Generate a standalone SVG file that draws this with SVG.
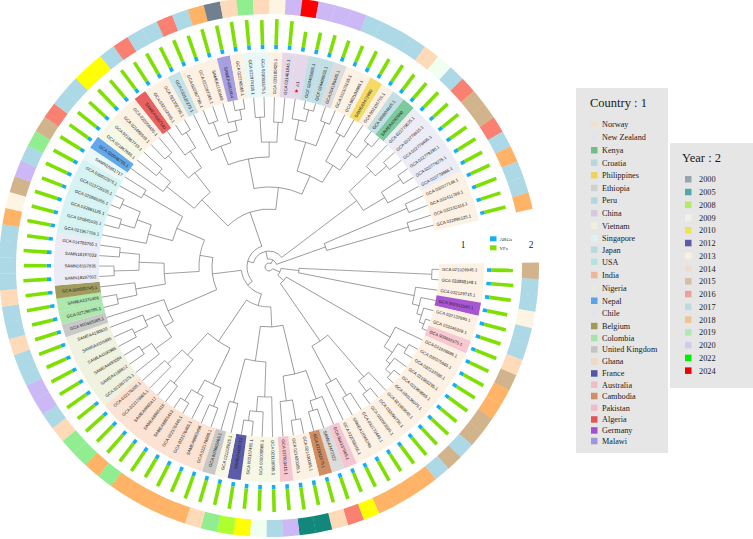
<svg xmlns="http://www.w3.org/2000/svg" xmlns:xlink="http://www.w3.org/1999/xlink" width="753" height="539" viewBox="0 0 753 539">
<style>
.lf text{font-family:"Liberation Sans",Arial,sans-serif;font-size:4.3px;fill:#222222}
.l{text-anchor:end}
.vf{stroke:#7ee000;stroke-width:3.6}
.lg{font-family:"Liberation Serif","Times New Roman",serif;fill:#1a1a1a}
.No{fill:#fdf1e4}.Ge{fill:#a855d4}.Pk{fill:#f8c8d2}.Au{fill:#f6c6d0}.Et{fill:#dcdcdc}.Kh{fill:#d08d62}.Fr{fill:#5b5bab}.Uk{fill:#c8c8c8}.Gh{fill:#fbe2d2}.Ng{fill:#f0f2e0}.Co{fill:#aee8ae}.Be{fill:#a09c5c}.Cl{fill:#ebebf6}.Us{fill:#d6f3f3}.Sg{fill:#e8f8f8}.Np{fill:#62a8ea}.Vn{fill:#f7f7e6}.Dz{fill:#e86060}.Jp{fill:#c4e2e8}.Mw{fill:#a79fe2}.Cn{fill:#e4d8ea}.Hr{fill:#c2dfe6}.Ph{fill:#f6da66}.Ke{fill:#7cc99c}.Nz{fill:#ececf7}
.y00{fill:#708090}.y05{fill:#12877a}.y08{fill:#adff2f}.y09{fill:#f0fff0}.y10{fill:#ffff00}.y13{fill:#fdf5e2}.y14{fill:#ffdab9}.y15{fill:#d2b48c}.y16{fill:#fa8072}.y17{fill:#add8e6}.y18{fill:#ffb366}.y19{fill:#90ee90}.y20{fill:#cbb8f5}.y24{fill:#ff0000}
</style>
<defs>
<path id="bg" d="M169.92,-5.281A170,170 0 0,1 169.92,5.281L214.9,6.678A215,215 0 0,0 214.9,-6.678Z"/>
<path id="yr" d="M252.88,-7.859A253,253 0 0,1 252.88,7.859L269.87,8.387A270,270 0 0,0 269.87,-8.387Z"/>
<line id="arg" x1="218" x2="222.5" stroke="#14aff0" stroke-width="3.6"/>
</defs>
<rect width="753" height="539" fill="#ffffff"/>
<g transform="translate(269 267) rotate(0.8)">
<g id="leaves" class="lf">
<g id="leaf0" transform="rotate(0)"><use href="#bg" class="No"/><text x="173" y="1.5">GCA 021026945.1</text><use href="#arg"/><line class="vf" x1="222.5" x2="244"/><use href="#yr" class="y15"/></g>
<g id="leaf1" transform="rotate(3.52)"><use href="#bg" class="No"/><text x="173" y="1.5">GCA 032868148.1</text><use href="#arg"/><line class="vf" x1="222.5" x2="245"/><use href="#yr" class="y17"/></g>
<g id="leaf2" transform="rotate(7.04)"><use href="#bg" class="No"/><text x="173" y="1.5">GCA 032129715.1</text><use href="#arg"/><line class="vf" x1="222.5" x2="244"/><use href="#yr" class="y17"/></g>
<g id="leaf3" transform="rotate(10.56)"><use href="#bg" class="Ge"/><text x="173" y="1.5">GCA 900912545.1</text><use href="#arg"/><line class="vf" x1="222.5" x2="243"/><use href="#yr" class="y13"/></g>
<g id="leaf4" transform="rotate(14.08)"><use href="#bg" class="No"/><text x="173" y="1.5">GCA 032132990.1</text><use href="#arg"/><line class="vf" x1="222.5" x2="245"/><use href="#yr" class="y17"/></g>
<g id="leaf5" transform="rotate(17.6)"><use href="#bg" class="No"/><text x="173" y="1.5">GCA 032046209.1</text><use href="#arg"/><line class="vf" x1="222.5" x2="244"/><use href="#yr" class="y17"/></g>
<g id="leaf6" transform="rotate(21.12)"><use href="#bg" class="Pk"/><text x="173" y="1.5">GCA 900932575.1</text><use href="#arg"/><line class="vf" x1="222.5" x2="245"/><use href="#yr" class="y14"/></g>
<g id="leaf7" transform="rotate(24.64)"><use href="#bg" class="No"/><text x="173" y="1.5">GCA 021926685.1</text><use href="#arg"/><line class="vf" x1="222.5" x2="243"/><use href="#yr" class="y15"/></g>
<g id="leaf8" transform="rotate(28.16)"><use href="#bg" class="No"/><text x="173" y="1.5">GCA 032075665.1</text><use href="#arg"/><line class="vf" x1="222.5" x2="245"/><use href="#yr" class="y18"/></g>
<g id="leaf9" transform="rotate(31.68)"><use href="#bg" class="No"/><text x="173" y="1.5">GCA 032132085.1</text><use href="#arg"/><line class="vf" x1="222.5" x2="244"/><use href="#yr" class="y18"/></g>
<g id="leaf10" transform="rotate(35.2)"><use href="#bg" class="No"/><text x="173" y="1.5">GCA 021965295.1</text><use href="#arg"/><line class="vf" x1="222.5" x2="245"/><use href="#yr" class="y15"/></g>
<g id="leaf11" transform="rotate(38.72)"><use href="#bg" class="No"/><text x="173" y="1.5">GCA 021969565.1</text><use href="#arg"/><line class="vf" x1="222.5" x2="243"/><use href="#yr" class="y15"/></g>
<g id="leaf12" transform="rotate(42.24)"><use href="#bg" class="No"/><text x="173" y="1.5">GCA 030136075.1</text><use href="#arg"/><line class="vf" x1="222.5" x2="245"/><use href="#yr" class="y17"/></g>
<g id="leaf13" transform="rotate(45.76)"><use href="#bg" class="No"/><text x="173" y="1.5">GCA 021969545.1</text><use href="#arg"/><line class="vf" x1="222.5" x2="244"/><use href="#yr" class="y15"/></g>
<g id="leaf14" transform="rotate(49.28)"><use href="#bg" class="No"/><text x="173" y="1.5">GCA 032096735.1</text><use href="#arg"/><line class="vf" x1="222.5" x2="245"/><use href="#yr" class="y17"/></g>
<g id="leaf15" transform="rotate(52.8)"><use href="#bg" class="No"/><text x="173" y="1.5">GCA 032093595.1</text><use href="#arg"/><line class="vf" x1="222.5" x2="244"/><use href="#yr" class="y18"/></g>
<g id="leaf16" transform="rotate(56.32)"><use href="#bg" class="No"/><text x="173" y="1.5">GCA 032172445.1</text><use href="#arg"/><line class="vf" x1="222.5" x2="243"/><use href="#yr" class="y18"/></g>
<g id="leaf17" transform="rotate(59.84)"><use href="#bg" class="No"/><text x="173" y="1.5">SAMEA10365746</text><use href="#arg"/><line class="vf" x1="222.5" x2="245"/><use href="#yr" class="y18"/></g>
<g id="leaf18" transform="rotate(63.36)"><use href="#bg" class="No"/><text x="173" y="1.5">GCA 022058055.1</text><use href="#arg"/><line class="vf" x1="222.5" x2="244"/><use href="#yr" class="y18"/></g>
<g id="leaf19" transform="rotate(66.88)"><use href="#bg" class="Au"/><text x="173" y="1.5">GCA 900137065.1</text><use href="#arg"/><line class="vf" x1="222.5" x2="243"/><use href="#yr" class="y10"/></g>
<g id="leaf20" transform="rotate(70.4)"><use href="#bg" class="Et"/><text x="173" y="1.5">SAMEA7472322</text><use href="#arg"/><line class="vf" x1="222.5" x2="245"/><use href="#yr" class="y16"/></g>
<g id="leaf21" transform="rotate(73.92)"><use href="#bg" class="Kh"/><text x="173" y="1.5">GCA 022832075.1</text><use href="#arg"/><line class="vf" x1="222.5" x2="244"/><use href="#yr" class="y14"/></g>
<g id="leaf22" transform="rotate(77.44)"><use href="#bg" class="No"/><text x="173" y="1.5">GCA 021430065.1</text><use href="#arg"/><line class="vf" x1="222.5" x2="243"/><use href="#yr" class="y05"/></g>
<g id="leaf23" transform="rotate(80.96)"><use href="#bg" class="No"/><text x="173" y="1.5">GCA 021430085.1</text><use href="#arg"/><line class="vf" x1="222.5" x2="245"/><use href="#yr" class="y05"/></g>
<g id="leaf24" transform="rotate(84.48)"><use href="#bg" class="Au"/><text x="173" y="1.5">GCA 027003415.1</text><use href="#arg"/><line class="vf" x1="222.5" x2="244"/><use href="#yr" class="y20"/></g>
<g id="leaf25" transform="rotate(88)"><use href="#bg" class="Vn"/><text x="173" y="1.5">GCA 021128035.1</text><use href="#arg"/><line class="vf" x1="222.5" x2="245"/><use href="#yr" class="y17"/></g>
<g id="leaf26" transform="rotate(91.52)"><use href="#bg" class="Vn"/><text class="l" x="173" y="1.5" transform="rotate(180 173 0)">GCA 000008865.1</text><use href="#arg"/><line class="vf" x1="222.5" x2="244"/><use href="#yr" class="y09"/></g>
<g id="leaf27" transform="rotate(95.04)"><use href="#bg" class="Vn"/><text class="l" x="173" y="1.5" transform="rotate(180 173 0)">GCA 003157405.1</text><use href="#arg"/><line class="vf" x1="222.5" x2="243"/><use href="#yr" class="y10"/></g>
<g id="leaf28" transform="rotate(98.56)"><use href="#bg" class="Fr"/><text class="l" x="173" y="1.5" transform="rotate(180 173 0)">SAMEA4433712</text><use href="#arg"/><line class="vf" x1="222.5" x2="245"/><use href="#yr" class="y08"/></g>
<g id="leaf29" transform="rotate(102.08)"><use href="#bg" class="Vn"/><text class="l" x="173" y="1.5" transform="rotate(180 173 0)">GCA 021108625.1</text><use href="#arg"/><line class="vf" x1="222.5" x2="244"/><use href="#yr" class="y19"/></g>
<g id="leaf30" transform="rotate(105.6)"><use href="#bg" class="Uk"/><text class="l" x="173" y="1.5" transform="rotate(180 173 0)">GCA 900665465.1</text><use href="#arg"/><line class="vf" x1="222.5" x2="245"/><use href="#yr" class="y14"/></g>
<g id="leaf31" transform="rotate(109.12)"><use href="#bg" class="Gh"/><text class="l" x="173" y="1.5" transform="rotate(180 173 0)">GCA 022176565.1</text><use href="#arg"/><line class="vf" x1="222.5" x2="246"/><use href="#yr" class="y18"/></g>
<g id="leaf32" transform="rotate(112.64)"><use href="#bg" class="Gh"/><text class="l" x="173" y="1.5" transform="rotate(180 173 0)">SAMEA8863456</text><use href="#arg"/><line class="vf" x1="222.5" x2="245"/><use href="#yr" class="y18"/></g>
<g id="leaf33" transform="rotate(116.16)"><use href="#bg" class="Gh"/><text class="l" x="173" y="1.5" transform="rotate(180 173 0)">GCA 022176465.1</text><use href="#arg"/><line class="vf" x1="222.5" x2="246"/><use href="#yr" class="y18"/></g>
<g id="leaf34" transform="rotate(119.68)"><use href="#bg" class="Gh"/><text class="l" x="173" y="1.5" transform="rotate(180 173 0)">GCA 022176445.1</text><use href="#arg"/><line class="vf" x1="222.5" x2="244"/><use href="#yr" class="y18"/></g>
<g id="leaf35" transform="rotate(123.2)"><use href="#bg" class="Gh"/><text class="l" x="173" y="1.5" transform="rotate(180 173 0)">SAMEA8865413</text><use href="#arg"/><line class="vf" x1="222.5" x2="246"/><use href="#yr" class="y18"/></g>
<g id="leaf36" transform="rotate(126.72)"><use href="#bg" class="Gh"/><text class="l" x="173" y="1.5" transform="rotate(180 173 0)">SAMEA8865416</text><use href="#arg"/><line class="vf" x1="222.5" x2="245"/><use href="#yr" class="y19"/></g>
<g id="leaf37" transform="rotate(130.24)"><use href="#bg" class="Gh"/><text class="l" x="173" y="1.5" transform="rotate(180 173 0)">SAMEA8865417</text><use href="#arg"/><line class="vf" x1="222.5" x2="246"/><use href="#yr" class="y18"/></g>
<g id="leaf38" transform="rotate(133.76)"><use href="#bg" class="Gh"/><text class="l" x="173" y="1.5" transform="rotate(180 173 0)">GCA 022179965.1</text><use href="#arg"/><line class="vf" x1="222.5" x2="245"/><use href="#yr" class="y19"/></g>
<g id="leaf39" transform="rotate(137.28)"><use href="#bg" class="Gh"/><text class="l" x="173" y="1.5" transform="rotate(180 173 0)">GCA 022176205.1</text><use href="#arg"/><line class="vf" x1="222.5" x2="246"/><use href="#yr" class="y19"/></g>
<g id="leaf40" transform="rotate(140.8)"><use href="#bg" class="Ng"/><text class="l" x="173" y="1.5" transform="rotate(180 173 0)">GCA 021967375.1</text><use href="#arg"/><line class="vf" x1="222.5" x2="244"/><use href="#yr" class="y14"/></g>
<g id="leaf41" transform="rotate(144.32)"><use href="#bg" class="Ng"/><text class="l" x="173" y="1.5" transform="rotate(180 173 0)">SAMEA4189812</text><use href="#arg"/><line class="vf" x1="222.5" x2="246"/><use href="#yr" class="y17"/></g>
<g id="leaf42" transform="rotate(147.84)"><use href="#bg" class="Ng"/><text class="l" x="173" y="1.5" transform="rotate(180 173 0)">SAMEA4493584</text><use href="#arg"/><line class="vf" x1="222.5" x2="245"/><use href="#yr" class="y20"/></g>
<g id="leaf43" transform="rotate(151.36)"><use href="#bg" class="Ng"/><text class="l" x="173" y="1.5" transform="rotate(180 173 0)">SAMEA4190985</text><use href="#arg"/><line class="vf" x1="222.5" x2="246"/><use href="#yr" class="y20"/></g>
<g id="leaf44" transform="rotate(154.88)"><use href="#bg" class="Ng"/><text class="l" x="173" y="1.5" transform="rotate(180 173 0)">SAMEA4155895</text><use href="#arg"/><line class="vf" x1="222.5" x2="244"/><use href="#yr" class="y17"/></g>
<g id="leaf45" transform="rotate(158.4)"><use href="#bg" class="Ng"/><text class="l" x="173" y="1.5" transform="rotate(180 173 0)">SAMEA4190820</text><use href="#arg"/><line class="vf" x1="222.5" x2="246"/><use href="#yr" class="y17"/></g>
<g id="leaf46" transform="rotate(161.92)"><use href="#bg" class="Uk"/><text class="l" x="173" y="1.5" transform="rotate(180 173 0)">GCA 900665385.1</text><use href="#arg"/><line class="vf" x1="222.5" x2="245"/><use href="#yr" class="y14"/></g>
<g id="leaf47" transform="rotate(165.44)"><use href="#bg" class="Co"/><text class="l" x="173" y="1.5" transform="rotate(180 173 0)">GCA 027296785.1</text><use href="#arg"/><line class="vf" x1="222.5" x2="244"/><use href="#yr" class="y17"/></g>
<g id="leaf48" transform="rotate(168.96)"><use href="#bg" class="Co"/><text class="l" x="173" y="1.5" transform="rotate(180 173 0)">SAMEA3375406</text><use href="#arg"/><line class="vf" x1="222.5" x2="246"/><use href="#yr" class="y17"/></g>
<g id="leaf49" transform="rotate(172.48)"><use href="#bg" class="Be"/><text class="l" x="173" y="1.5" transform="rotate(180 173 0)">GCA 900665745.1</text><use href="#arg"/><line class="vf" x1="222.5" x2="245"/><use href="#yr" class="y14"/></g>
<g id="leaf50" transform="rotate(176)"><use href="#bg" class="Cl"/><text class="l" x="173" y="1.5" transform="rotate(180 173 0)">SAMN18197502</text><use href="#arg"/><line class="vf" x1="222.5" x2="246"/><use href="#yr" class="y17"/></g>
<g id="leaf51" transform="rotate(179.52)"><use href="#bg" class="Cl"/><text class="l" x="173" y="1.5" transform="rotate(180 173 0)">SAMN18197835</text><use href="#arg"/><line class="vf" x1="222.5" x2="245"/><use href="#yr" class="y17"/></g>
<g id="leaf52" transform="rotate(183.04)"><use href="#bg" class="Cl"/><text class="l" x="173" y="1.5" transform="rotate(180 173 0)">SAMN18197033</text><use href="#arg"/><line class="vf" x1="222.5" x2="246"/><use href="#yr" class="y17"/></g>
<g id="leaf53" transform="rotate(186.56)"><use href="#bg" class="Cl"/><text class="l" x="173" y="1.5" transform="rotate(180 173 0)">GCA 014785765.1</text><use href="#arg"/><line class="vf" x1="222.5" x2="244"/><use href="#yr" class="y17"/></g>
<g id="leaf54" transform="rotate(190.08)"><use href="#bg" class="Us"/><text class="l" x="173" y="1.5" transform="rotate(180 173 0)">GCA 021957705.1</text><use href="#arg"/><line class="vf" x1="222.5" x2="246"/><use href="#yr" class="y18"/></g>
<g id="leaf55" transform="rotate(193.6)"><use href="#bg" class="Us"/><text class="l" x="173" y="1.5" transform="rotate(180 173 0)">GCA 020845535.1</text><use href="#arg"/><line class="vf" x1="222.5" x2="245"/><use href="#yr" class="y13"/></g>
<g id="leaf56" transform="rotate(197.12)"><use href="#bg" class="Us"/><text class="l" x="173" y="1.5" transform="rotate(180 173 0)">GCA 022981125.1</text><use href="#arg"/><line class="vf" x1="222.5" x2="246"/><use href="#yr" class="y15"/></g>
<g id="leaf57" transform="rotate(200.64)"><use href="#bg" class="Us"/><text class="l" x="173" y="1.5" transform="rotate(180 173 0)">GCA 020965255.1</text><use href="#arg"/><line class="vf" x1="222.5" x2="244"/><use href="#yr" class="y20"/></g>
<g id="leaf58" transform="rotate(204.16)"><use href="#bg" class="Us"/><text class="l" x="173" y="1.5" transform="rotate(180 173 0)">GCA 013729105.1</text><use href="#arg"/><line class="vf" x1="222.5" x2="246"/><use href="#yr" class="y17"/></g>
<g id="leaf59" transform="rotate(207.68)"><use href="#bg" class="Us"/><text class="l" x="173" y="1.5" transform="rotate(180 173 0)">GCA 030932975.1</text><use href="#arg"/><line class="vf" x1="222.5" x2="245"/><use href="#yr" class="y19"/></g>
<g id="leaf60" transform="rotate(211.2)"><use href="#bg" class="Sg"/><text class="l" x="173" y="1.5" transform="rotate(180 173 0)">SAMN15951717</text><use href="#arg"/><line class="vf" x1="222.5" x2="246"/><use href="#yr" class="y15"/></g>
<g id="leaf61" transform="rotate(214.72)"><use href="#bg" class="Np"/><text class="l" x="173" y="1.5" transform="rotate(180 173 0)">GCA 020046705.1</text><use href="#arg"/><line class="vf" x1="222.5" x2="245"/><use href="#yr" class="y16"/></g>
<g id="leaf62" transform="rotate(218.24)"><use href="#bg" class="Vn"/><text class="l" x="173" y="1.5" transform="rotate(180 173 0)">GCA 021867665.1</text><use href="#arg"/><line class="vf" x1="222.5" x2="246"/><use href="#yr" class="y17"/></g>
<g id="leaf63" transform="rotate(221.76)"><use href="#bg" class="Vn"/><text class="l" x="173" y="1.5" transform="rotate(180 173 0)">GCA 021867715.1</text><use href="#arg"/><line class="vf" x1="222.5" x2="244"/><use href="#yr" class="y17"/></g>
<g id="leaf64" transform="rotate(225.28)"><use href="#bg" class="No"/><text class="l" x="173" y="1.5" transform="rotate(180 173 0)">GCA 021868545.1</text><use href="#arg"/><line class="vf" x1="222.5" x2="246"/><use href="#yr" class="y10"/></g>
<g id="leaf65" transform="rotate(228.8)"><use href="#bg" class="No"/><text class="l" x="173" y="1.5" transform="rotate(180 173 0)">GCA 022058435.1</text><use href="#arg"/><line class="vf" x1="222.5" x2="245"/><use href="#yr" class="y10"/></g>
<g id="leaf66" transform="rotate(232.32)"><use href="#bg" class="Dz"/><text class="l" x="173" y="1.5" transform="rotate(180 173 0)">SAMEA4387140</text><use href="#arg"/><line class="vf" x1="222.5" x2="246"/><use href="#yr" class="y17"/></g>
<g id="leaf67" transform="rotate(235.84)"><use href="#bg" class="No"/><text class="l" x="173" y="1.5" transform="rotate(180 173 0)">GCA 032162445.1</text><use href="#arg"/><line class="vf" x1="222.5" x2="245"/><use href="#yr" class="y16"/></g>
<g id="leaf68" transform="rotate(239.36)"><use href="#bg" class="No"/><text class="l" x="173" y="1.5" transform="rotate(180 173 0)">GCA 022302785.1</text><use href="#arg"/><line class="vf" x1="222.5" x2="246"/><use href="#yr" class="y17"/></g>
<g id="leaf69" transform="rotate(242.88)"><use href="#bg" class="Jp"/><text class="l" x="173" y="1.5" transform="rotate(180 173 0)">GCA 032120275.1</text><use href="#arg"/><line class="vf" x1="222.5" x2="245"/><use href="#yr" class="y17"/></g>
<g id="leaf70" transform="rotate(246.4)"><use href="#bg" class="No"/><text class="l" x="173" y="1.5" transform="rotate(180 173 0)">GCA 022307785.1</text><use href="#arg"/><line class="vf" x1="222.5" x2="246"/><use href="#yr" class="y16"/></g>
<g id="leaf71" transform="rotate(249.92)"><use href="#bg" class="No"/><text class="l" x="173" y="1.5" transform="rotate(180 173 0)">GCA 022297365.1</text><use href="#arg"/><line class="vf" x1="222.5" x2="245"/><use href="#yr" class="y17"/></g>
<g id="leaf72" transform="rotate(253.44)"><use href="#bg" class="No"/><text class="l" x="173" y="1.5" transform="rotate(180 173 0)">SAMEA1190469</text><use href="#arg"/><line class="vf" x1="222.5" x2="247"/><use href="#yr" class="y18"/></g>
<g id="leaf73" transform="rotate(256.96)"><use href="#bg" class="Mw"/><text class="l" x="173" y="1.5" transform="rotate(180 173 0)">SAMEA4281604</text><use href="#arg"/><line class="vf" x1="222.5" x2="247"/><use href="#yr" class="y00"/></g>
<g id="leaf74" transform="rotate(260.48)"><use href="#bg" class="No"/><text class="l" x="173" y="1.5" transform="rotate(180 173 0)">GCA 022748065.1</text><use href="#arg"/><line class="vf" x1="222.5" x2="248"/><use href="#yr" class="y14"/></g>
<g id="leaf75" transform="rotate(264)"><use href="#bg" class="Sg"/><text class="l" x="173" y="1.5" transform="rotate(180 173 0)">GCA 022974135.1</text><use href="#arg"/><line class="vf" x1="222.5" x2="248"/><use href="#yr" class="y19"/></g>
<g id="leaf76" transform="rotate(267.52)"><use href="#bg" class="Sg"/><text class="l" x="173" y="1.5" transform="rotate(180 173 0)">GCA 023033375.1</text><use href="#arg"/><line class="vf" x1="222.5" x2="247"/><use href="#yr" class="y14"/></g>
<g id="leaf77" transform="rotate(271.04)"><use href="#bg" class="No"/><text x="173" y="1.5">GCA 033180425.1</text><use href="#arg"/><line class="vf" x1="222.5" x2="248"/><use href="#yr" class="y13"/></g>
<g id="leaf78" transform="rotate(274.56)"><use href="#bg" class="Cn"/><text x="173" y="1.5">GCA 021461845.1</text><use href="#arg"/><line class="vf" x1="222.5" x2="247"/><use href="#yr" class="y20"/></g>
<g id="leaf79" transform="rotate(278.08)"><use href="#bg" class="Cn"/><polygon fill="#ee1111" transform="translate(178 0)" points="0,-2.2 0.529,-0.728 2.092,-0.68 0.856,0.278 1.293,1.78 0,0.9 -1.293,1.78 -0.856,0.278 -2.092,-0.68 -0.529,-0.728"/><text x="182.5" y="1.5">A1</text><use href="#arg"/><line class="vf" x1="222.5" x2="238"/><use href="#yr" class="y24"/></g>
<g id="leaf80" transform="rotate(281.6)"><use href="#bg" class="Hr"/><text x="173" y="1.5">GCF 024465885.1</text><use href="#arg"/><line class="vf" x1="222.5" x2="240"/><use href="#yr" class="y20"/></g>
<g id="leaf81" transform="rotate(285.12)"><use href="#bg" class="Hr"/><text x="173" y="1.5">GCF 024466055.1</text><use href="#arg"/><line class="vf" x1="222.5" x2="241"/><use href="#yr" class="y20"/></g>
<g id="leaf82" transform="rotate(288.64)"><use href="#bg" class="Et"/><text x="173" y="1.5">GCA 004196445.1</text><use href="#arg"/><line class="vf" x1="222.5" x2="240"/><use href="#yr" class="y20"/></g>
<g id="leaf83" transform="rotate(292.16)"><use href="#bg" class="No"/><text x="173" y="1.5">GCA 002103135.1</text><use href="#arg"/><line class="vf" x1="222.5" x2="240"/><use href="#yr" class="y17"/></g>
<g id="leaf84" transform="rotate(295.68)"><use href="#bg" class="No"/><text x="173" y="1.5">GCA 002104005.1</text><use href="#arg"/><line class="vf" x1="222.5" x2="241"/><use href="#yr" class="y17"/></g>
<g id="leaf85" transform="rotate(299.2)"><use href="#bg" class="Ph"/><text x="173" y="1.5">SAMEA3472880</text><use href="#arg"/><line class="vf" x1="222.5" x2="240"/><use href="#yr" class="y17"/></g>
<g id="leaf86" transform="rotate(302.72)"><use href="#bg" class="No"/><text x="173" y="1.5">GCA 002105755.1</text><use href="#arg"/><line class="vf" x1="222.5" x2="242"/><use href="#yr" class="y17"/></g>
<g id="leaf87" transform="rotate(306.24)"><use href="#bg" class="Hr"/><text x="173" y="1.5">GCA 900804665.1</text><use href="#arg"/><line class="vf" x1="222.5" x2="241"/><use href="#yr" class="y14"/></g>
<g id="leaf88" transform="rotate(309.76)"><use href="#bg" class="Ke"/><text x="173" y="1.5">SAMEA4282680</text><use href="#arg"/><line class="vf" x1="222.5" x2="242"/><use href="#yr" class="y09"/></g>
<g id="leaf89" transform="rotate(313.28)"><use href="#bg" class="Nz"/><text x="173" y="1.5">GCA 022779675.1</text><use href="#arg"/><line class="vf" x1="222.5" x2="243"/><use href="#yr" class="y17"/></g>
<g id="leaf90" transform="rotate(316.8)"><use href="#bg" class="Nz"/><text x="173" y="1.5">GCA 022779615.1</text><use href="#arg"/><line class="vf" x1="222.5" x2="242"/><use href="#yr" class="y16"/></g>
<g id="leaf91" transform="rotate(320.32)"><use href="#bg" class="Nz"/><text x="173" y="1.5">GCA 022779495.1</text><use href="#arg"/><line class="vf" x1="222.5" x2="243"/><use href="#yr" class="y15"/></g>
<g id="leaf92" transform="rotate(323.84)"><use href="#bg" class="Nz"/><text x="173" y="1.5">GCA 022779295.1</text><use href="#arg"/><line class="vf" x1="222.5" x2="242"/><use href="#yr" class="y15"/></g>
<g id="leaf93" transform="rotate(327.36)"><use href="#bg" class="Nz"/><text x="173" y="1.5">GCA 022779275.1</text><use href="#arg"/><line class="vf" x1="222.5" x2="243"/><use href="#yr" class="y16"/></g>
<g id="leaf94" transform="rotate(330.88)"><use href="#bg" class="Nz"/><text x="173" y="1.5">GCA 022779865.1</text><use href="#arg"/><line class="vf" x1="222.5" x2="242"/><use href="#yr" class="y17"/></g>
<g id="leaf95" transform="rotate(334.4)"><use href="#bg" class="No"/><text x="173" y="1.5">GCA 032077146.1</text><use href="#arg"/><line class="vf" x1="222.5" x2="243"/><use href="#yr" class="y18"/></g>
<g id="leaf96" transform="rotate(337.92)"><use href="#bg" class="No"/><text x="173" y="1.5">GCA 032411789.1</text><use href="#arg"/><line class="vf" x1="222.5" x2="244"/><use href="#yr" class="y17"/></g>
<g id="leaf97" transform="rotate(341.44)"><use href="#bg" class="No"/><text x="173" y="1.5">GCA 032132316.1</text><use href="#arg"/><line class="vf" x1="222.5" x2="243"/><use href="#yr" class="y17"/></g>
<g id="leaf98" transform="rotate(344.96)"><use href="#bg" class="No"/><text x="173" y="1.5">GCA 032896125.1</text><use href="#arg"/><line class="vf" x1="222.5" x2="244"/><use href="#yr" class="y18"/></g>
</g>
<g id="connectors" fill="none" stroke="#666666" stroke-width="0.6">
<circle r="165" stroke-dasharray="10.14 2000" transform="rotate(17.6)"/><line x1="165" x2="170" transform="rotate(17.6)"/><line x1="165" x2="170" transform="rotate(21.12)"/>
<circle r="160" stroke-dasharray="14.74 2000" transform="rotate(14.08)"/><line x1="160" x2="170" transform="rotate(14.08)"/><line x1="160" x2="165" transform="rotate(19.36)"/>
<circle r="155" stroke-dasharray="16.67 2000" transform="rotate(10.56)"/><line x1="155" x2="170" transform="rotate(10.56)"/><line x1="155" x2="160" transform="rotate(16.72)"/>
<circle r="148" stroke-dasharray="17.05 2000" transform="rotate(7.04)"/><line x1="148" x2="170" transform="rotate(7.04)"/><line x1="148" x2="155" transform="rotate(13.64)"/>
<circle r="163" stroke-dasharray="10.01 2000" transform="rotate(0)"/><line x1="163" x2="170" transform="rotate(0)"/><line x1="163" x2="170" transform="rotate(3.52)"/>
<circle r="30" stroke-dasharray="4.49 2000" transform="rotate(1.76)"/><line x1="30" x2="163" transform="rotate(1.76)"/><line x1="30" x2="148" transform="rotate(10.34)"/>
<circle r="162" stroke-dasharray="9.95 2000" transform="rotate(38.72)"/><line x1="162" x2="170" transform="rotate(38.72)"/><line x1="162" x2="170" transform="rotate(42.24)"/>
<circle r="155" stroke-dasharray="14.28 2000" transform="rotate(35.2)"/><line x1="155" x2="170" transform="rotate(35.2)"/><line x1="155" x2="162" transform="rotate(40.48)"/>
<circle r="160" stroke-dasharray="9.83 2000" transform="rotate(28.16)"/><line x1="160" x2="170" transform="rotate(28.16)"/><line x1="160" x2="170" transform="rotate(31.68)"/>
<circle r="150" stroke-dasharray="20.73 2000" transform="rotate(29.92)"/><line x1="150" x2="160" transform="rotate(29.92)"/><line x1="150" x2="155" transform="rotate(37.84)"/>
<circle r="140" stroke-dasharray="22.58 2000" transform="rotate(24.64)"/><line x1="140" x2="170" transform="rotate(24.64)"/><line x1="140" x2="150" transform="rotate(33.88)"/>
<circle r="158" stroke-dasharray="9.71 2000" transform="rotate(49.28)"/><line x1="158" x2="170" transform="rotate(49.28)"/><line x1="158" x2="170" transform="rotate(52.8)"/>
<circle r="145" stroke-dasharray="13.36 2000" transform="rotate(45.76)"/><line x1="145" x2="170" transform="rotate(45.76)"/><line x1="145" x2="158" transform="rotate(51.04)"/>
<circle r="150" stroke-dasharray="9.22 2000" transform="rotate(56.32)"/><line x1="150" x2="170" transform="rotate(56.32)"/><line x1="150" x2="170" transform="rotate(59.84)"/>
<circle r="130" stroke-dasharray="11.98 2000" transform="rotate(58.08)"/><line x1="130" x2="150" transform="rotate(58.08)"/><line x1="130" x2="170" transform="rotate(63.36)"/>
<circle r="90" stroke-dasharray="19.35 2000" transform="rotate(48.4)"/><line x1="90" x2="145" transform="rotate(48.4)"/><line x1="90" x2="130" transform="rotate(60.72)"/>
<circle r="20" stroke-dasharray="8.83 2000" transform="rotate(29.26)"/><line x1="20" x2="140" transform="rotate(29.26)"/><line x1="20" x2="90" transform="rotate(54.56)"/>
<circle r="12" stroke-dasharray="7.51 2000" transform="rotate(6.05)"/><line x1="12" x2="30" transform="rotate(6.05)"/><line x1="12" x2="20" transform="rotate(41.91)"/>
<circle r="150" stroke-dasharray="9.22 2000" transform="rotate(334.4)"/><line x1="150" x2="170" transform="rotate(334.4)"/><line x1="150" x2="170" transform="rotate(337.92)"/>
<circle r="145" stroke-dasharray="8.91 2000" transform="rotate(341.44)"/><line x1="145" x2="170" transform="rotate(341.44)"/><line x1="145" x2="170" transform="rotate(344.96)"/>
<circle r="60" stroke-dasharray="7.37 2000" transform="rotate(336.16)"/><line x1="60" x2="150" transform="rotate(336.16)"/><line x1="60" x2="145" transform="rotate(343.2)"/>
<circle r="155" stroke-dasharray="9.52 2000" transform="rotate(316.8)"/><line x1="155" x2="170" transform="rotate(316.8)"/><line x1="155" x2="170" transform="rotate(320.32)"/>
<circle r="140" stroke-dasharray="12.9 2000" transform="rotate(313.28)"/><line x1="140" x2="170" transform="rotate(313.28)"/><line x1="140" x2="155" transform="rotate(318.56)"/>
<circle r="158" stroke-dasharray="9.71 2000" transform="rotate(323.84)"/><line x1="158" x2="170" transform="rotate(323.84)"/><line x1="158" x2="170" transform="rotate(327.36)"/>
<circle r="135" stroke-dasharray="12.44 2000" transform="rotate(325.6)"/><line x1="135" x2="158" transform="rotate(325.6)"/><line x1="135" x2="170" transform="rotate(330.88)"/>
<circle r="110" stroke-dasharray="23.65 2000" transform="rotate(315.92)"/><line x1="110" x2="140" transform="rotate(315.92)"/><line x1="110" x2="135" transform="rotate(328.24)"/>
<circle r="162" stroke-dasharray="9.95 2000" transform="rotate(281.6)"/><line x1="162" x2="170" transform="rotate(281.6)"/><line x1="162" x2="170" transform="rotate(285.12)"/>
<circle r="150" stroke-dasharray="13.82 2000" transform="rotate(278.08)"/><line x1="150" x2="170" transform="rotate(278.08)"/><line x1="150" x2="162" transform="rotate(283.36)"/>
<circle r="155" stroke-dasharray="9.52 2000" transform="rotate(288.64)"/><line x1="155" x2="170" transform="rotate(288.64)"/><line x1="155" x2="170" transform="rotate(292.16)"/>
<circle r="130" stroke-dasharray="21.96 2000" transform="rotate(280.72)"/><line x1="130" x2="150" transform="rotate(280.72)"/><line x1="130" x2="155" transform="rotate(290.4)"/>
<circle r="150" stroke-dasharray="9.22 2000" transform="rotate(295.68)"/><line x1="150" x2="170" transform="rotate(295.68)"/><line x1="150" x2="170" transform="rotate(299.2)"/>
<circle r="158" stroke-dasharray="9.71 2000" transform="rotate(306.24)"/><line x1="158" x2="170" transform="rotate(306.24)"/><line x1="158" x2="170" transform="rotate(309.76)"/>
<circle r="140" stroke-dasharray="12.9 2000" transform="rotate(302.72)"/><line x1="140" x2="170" transform="rotate(302.72)"/><line x1="140" x2="158" transform="rotate(308)"/>
<circle r="120" stroke-dasharray="16.59 2000" transform="rotate(297.44)"/><line x1="120" x2="150" transform="rotate(297.44)"/><line x1="120" x2="140" transform="rotate(305.36)"/>
<circle r="100" stroke-dasharray="27.65 2000" transform="rotate(285.56)"/><line x1="100" x2="130" transform="rotate(285.56)"/><line x1="100" x2="120" transform="rotate(301.4)"/>
<circle r="155" stroke-dasharray="9.52 2000" transform="rotate(246.4)"/><line x1="155" x2="170" transform="rotate(246.4)"/><line x1="155" x2="170" transform="rotate(249.92)"/>
<circle r="160" stroke-dasharray="9.83 2000" transform="rotate(256.96)"/><line x1="160" x2="170" transform="rotate(256.96)"/><line x1="160" x2="170" transform="rotate(260.48)"/>
<circle r="150" stroke-dasharray="13.82 2000" transform="rotate(253.44)"/><line x1="150" x2="170" transform="rotate(253.44)"/><line x1="150" x2="160" transform="rotate(258.72)"/>
<circle r="140" stroke-dasharray="19.35 2000" transform="rotate(248.16)"/><line x1="140" x2="155" transform="rotate(248.16)"/><line x1="140" x2="150" transform="rotate(256.08)"/>
<circle r="130" stroke-dasharray="20.97 2000" transform="rotate(242.88)"/><line x1="130" x2="170" transform="rotate(242.88)"/><line x1="130" x2="140" transform="rotate(252.12)"/>
<circle r="150" stroke-dasharray="9.22 2000" transform="rotate(264)"/><line x1="150" x2="170" transform="rotate(264)"/><line x1="150" x2="170" transform="rotate(267.52)"/>
<circle r="145" stroke-dasharray="8.91 2000" transform="rotate(271.04)"/><line x1="145" x2="170" transform="rotate(271.04)"/><line x1="145" x2="170" transform="rotate(274.56)"/>
<circle r="125" stroke-dasharray="15.36 2000" transform="rotate(265.76)"/><line x1="125" x2="150" transform="rotate(265.76)"/><line x1="125" x2="145" transform="rotate(272.8)"/>
<circle r="110" stroke-dasharray="41.82 2000" transform="rotate(247.5)"/><line x1="110" x2="130" transform="rotate(247.5)"/><line x1="110" x2="125" transform="rotate(269.28)"/>
<circle r="80" stroke-dasharray="49 2000" transform="rotate(258.39)"/><line x1="80" x2="110" transform="rotate(258.39)"/><line x1="80" x2="100" transform="rotate(293.48)"/>
<circle r="145" stroke-dasharray="8.91 2000" transform="rotate(218.24)"/><line x1="145" x2="170" transform="rotate(218.24)"/><line x1="145" x2="170" transform="rotate(221.76)"/>
<circle r="130" stroke-dasharray="11.98 2000" transform="rotate(214.72)"/><line x1="130" x2="170" transform="rotate(214.72)"/><line x1="130" x2="145" transform="rotate(220)"/>
<circle r="150" stroke-dasharray="9.22 2000" transform="rotate(225.28)"/><line x1="150" x2="170" transform="rotate(225.28)"/><line x1="150" x2="170" transform="rotate(228.8)"/>
<circle r="158" stroke-dasharray="9.71 2000" transform="rotate(235.84)"/><line x1="158" x2="170" transform="rotate(235.84)"/><line x1="158" x2="170" transform="rotate(239.36)"/>
<circle r="140" stroke-dasharray="12.9 2000" transform="rotate(232.32)"/><line x1="140" x2="170" transform="rotate(232.32)"/><line x1="140" x2="158" transform="rotate(237.6)"/>
<circle r="120" stroke-dasharray="16.59 2000" transform="rotate(227.04)"/><line x1="120" x2="150" transform="rotate(227.04)"/><line x1="120" x2="140" transform="rotate(234.96)"/>
<circle r="95" stroke-dasharray="22.62 2000" transform="rotate(217.36)"/><line x1="95" x2="130" transform="rotate(217.36)"/><line x1="95" x2="120" transform="rotate(231)"/>
<circle r="58" stroke-dasharray="52.4 2000" transform="rotate(224.18)"/><line x1="58" x2="95" transform="rotate(224.18)"/><line x1="58" x2="80" transform="rotate(275.94)"/>
<circle r="155" stroke-dasharray="9.52 2000" transform="rotate(165.44)"/><line x1="155" x2="170" transform="rotate(165.44)"/><line x1="155" x2="170" transform="rotate(168.96)"/>
<circle r="135" stroke-dasharray="12.44 2000" transform="rotate(167.2)"/><line x1="135" x2="155" transform="rotate(167.2)"/><line x1="135" x2="170" transform="rotate(172.48)"/>
<circle r="155" stroke-dasharray="9.52 2000" transform="rotate(176)"/><line x1="155" x2="170" transform="rotate(176)"/><line x1="155" x2="170" transform="rotate(179.52)"/>
<circle r="150" stroke-dasharray="9.22 2000" transform="rotate(183.04)"/><line x1="150" x2="170" transform="rotate(183.04)"/><line x1="150" x2="170" transform="rotate(186.56)"/>
<circle r="130" stroke-dasharray="15.97 2000" transform="rotate(177.76)"/><line x1="130" x2="155" transform="rotate(177.76)"/><line x1="130" x2="150" transform="rotate(184.8)"/>
<circle r="105" stroke-dasharray="20.97 2000" transform="rotate(169.84)"/><line x1="105" x2="135" transform="rotate(169.84)"/><line x1="105" x2="130" transform="rotate(181.28)"/>
<circle r="155" stroke-dasharray="9.52 2000" transform="rotate(193.6)"/><line x1="155" x2="170" transform="rotate(193.6)"/><line x1="155" x2="170" transform="rotate(197.12)"/>
<circle r="160" stroke-dasharray="9.83 2000" transform="rotate(200.64)"/><line x1="160" x2="170" transform="rotate(200.64)"/><line x1="160" x2="170" transform="rotate(204.16)"/>
<circle r="140" stroke-dasharray="17.2 2000" transform="rotate(195.36)"/><line x1="140" x2="155" transform="rotate(195.36)"/><line x1="140" x2="160" transform="rotate(202.4)"/>
<circle r="125" stroke-dasharray="19.2 2000" transform="rotate(190.08)"/><line x1="125" x2="170" transform="rotate(190.08)"/><line x1="125" x2="140" transform="rotate(198.88)"/>
<circle r="145" stroke-dasharray="8.91 2000" transform="rotate(207.68)"/><line x1="145" x2="170" transform="rotate(207.68)"/><line x1="145" x2="170" transform="rotate(211.2)"/>
<circle r="100" stroke-dasharray="26.11 2000" transform="rotate(194.48)"/><line x1="100" x2="125" transform="rotate(194.48)"/><line x1="100" x2="145" transform="rotate(209.44)"/>
<circle r="70" stroke-dasharray="32.25 2000" transform="rotate(175.56)"/><line x1="70" x2="105" transform="rotate(175.56)"/><line x1="70" x2="100" transform="rotate(201.96)"/>
<circle r="152" stroke-dasharray="9.34 2000" transform="rotate(144.32)"/><line x1="152" x2="170" transform="rotate(144.32)"/><line x1="152" x2="170" transform="rotate(147.84)"/>
<circle r="140" stroke-dasharray="12.9 2000" transform="rotate(140.8)"/><line x1="140" x2="170" transform="rotate(140.8)"/><line x1="140" x2="152" transform="rotate(146.08)"/>
<circle r="150" stroke-dasharray="9.22 2000" transform="rotate(151.36)"/><line x1="150" x2="170" transform="rotate(151.36)"/><line x1="150" x2="170" transform="rotate(154.88)"/>
<circle r="135" stroke-dasharray="12.44 2000" transform="rotate(153.12)"/><line x1="135" x2="150" transform="rotate(153.12)"/><line x1="135" x2="170" transform="rotate(158.4)"/>
<circle r="120" stroke-dasharray="25.8 2000" transform="rotate(143.44)"/><line x1="120" x2="140" transform="rotate(143.44)"/><line x1="120" x2="135" transform="rotate(155.76)"/>
<circle r="110" stroke-dasharray="23.65 2000" transform="rotate(149.6)"/><line x1="110" x2="120" transform="rotate(149.6)"/><line x1="110" x2="170" transform="rotate(161.92)"/>
<circle r="57" stroke-dasharray="32.83 2000" transform="rotate(155.76)"/><line x1="57" x2="110" transform="rotate(155.76)"/><line x1="57" x2="70" transform="rotate(188.76)"/>
<circle r="150" stroke-dasharray="9.22 2000" transform="rotate(70.4)"/><line x1="150" x2="170" transform="rotate(70.4)"/><line x1="150" x2="170" transform="rotate(73.92)"/>
<circle r="140" stroke-dasharray="12.9 2000" transform="rotate(66.88)"/><line x1="140" x2="170" transform="rotate(66.88)"/><line x1="140" x2="150" transform="rotate(72.16)"/>
<circle r="155" stroke-dasharray="9.52 2000" transform="rotate(77.44)"/><line x1="155" x2="170" transform="rotate(77.44)"/><line x1="155" x2="170" transform="rotate(80.96)"/>
<circle r="135" stroke-dasharray="12.44 2000" transform="rotate(79.2)"/><line x1="135" x2="155" transform="rotate(79.2)"/><line x1="135" x2="170" transform="rotate(84.48)"/>
<circle r="110" stroke-dasharray="23.65 2000" transform="rotate(69.52)"/><line x1="110" x2="140" transform="rotate(69.52)"/><line x1="110" x2="135" transform="rotate(81.84)"/>
<circle r="155" stroke-dasharray="9.52 2000" transform="rotate(95.04)"/><line x1="155" x2="170" transform="rotate(95.04)"/><line x1="155" x2="170" transform="rotate(98.56)"/>
<circle r="145" stroke-dasharray="13.36 2000" transform="rotate(91.52)"/><line x1="145" x2="170" transform="rotate(91.52)"/><line x1="145" x2="155" transform="rotate(96.8)"/>
<circle r="130" stroke-dasharray="13.98 2000" transform="rotate(88)"/><line x1="130" x2="170" transform="rotate(88)"/><line x1="130" x2="145" transform="rotate(94.16)"/>
<circle r="140" stroke-dasharray="8.6 2000" transform="rotate(102.08)"/><line x1="140" x2="170" transform="rotate(102.08)"/><line x1="140" x2="170" transform="rotate(105.6)"/>
<circle r="95" stroke-dasharray="21.16 2000" transform="rotate(91.08)"/><line x1="95" x2="130" transform="rotate(91.08)"/><line x1="95" x2="140" transform="rotate(103.84)"/>
<circle r="60" stroke-dasharray="22.81 2000" transform="rotate(75.68)"/><line x1="60" x2="110" transform="rotate(75.68)"/><line x1="60" x2="95" transform="rotate(97.46)"/>
<circle r="150" stroke-dasharray="9.22 2000" transform="rotate(109.12)"/><line x1="150" x2="170" transform="rotate(109.12)"/><line x1="150" x2="170" transform="rotate(112.64)"/>
<circle r="158" stroke-dasharray="9.71 2000" transform="rotate(119.68)"/><line x1="158" x2="170" transform="rotate(119.68)"/><line x1="158" x2="170" transform="rotate(123.2)"/>
<circle r="145" stroke-dasharray="13.36 2000" transform="rotate(116.16)"/><line x1="145" x2="170" transform="rotate(116.16)"/><line x1="145" x2="158" transform="rotate(121.44)"/>
<circle r="130" stroke-dasharray="17.97 2000" transform="rotate(110.88)"/><line x1="130" x2="150" transform="rotate(110.88)"/><line x1="130" x2="145" transform="rotate(118.8)"/>
<circle r="150" stroke-dasharray="9.22 2000" transform="rotate(126.72)"/><line x1="150" x2="170" transform="rotate(126.72)"/><line x1="150" x2="170" transform="rotate(130.24)"/>
<circle r="140" stroke-dasharray="8.6 2000" transform="rotate(133.76)"/><line x1="140" x2="170" transform="rotate(133.76)"/><line x1="140" x2="170" transform="rotate(137.28)"/>
<circle r="120" stroke-dasharray="14.74 2000" transform="rotate(128.48)"/><line x1="120" x2="150" transform="rotate(128.48)"/><line x1="120" x2="140" transform="rotate(135.52)"/>
<circle r="90" stroke-dasharray="26.96 2000" transform="rotate(114.84)"/><line x1="90" x2="130" transform="rotate(114.84)"/><line x1="90" x2="120" transform="rotate(132)"/>
<circle r="40" stroke-dasharray="25.73 2000" transform="rotate(86.57)"/><line x1="40" x2="60" transform="rotate(86.57)"/><line x1="40" x2="90" transform="rotate(123.42)"/>
<circle r="28" stroke-dasharray="32.87 2000" transform="rotate(105)"/><line x1="28" x2="40" transform="rotate(105)"/><line x1="28" x2="57" transform="rotate(172.26)"/>
<circle r="22" stroke-dasharray="42.79 2000" transform="rotate(138.63)"/><line x1="22" x2="28" transform="rotate(138.63)"/><line x1="22" x2="58" transform="rotate(250.06)"/>
<circle r="16" stroke-dasharray="35.67 2000" transform="rotate(194.35)"/><line x1="16" x2="22" transform="rotate(194.35)"/><line x1="16" x2="110" transform="rotate(322.08)"/>
<circle r="8" stroke-dasharray="11.37 2000" transform="rotate(258.22)"/><line x1="8" x2="16" transform="rotate(258.22)"/><line x1="8" x2="60" transform="rotate(339.68)"/>
<circle r="4" stroke-dasharray="19.2 2000" transform="rotate(23.98)"/><line x1="4" x2="12" transform="rotate(23.98)"/><line x1="4" x2="8" transform="rotate(298.95)"/>
</g>
</g>
<g id="track-labels" class="lg">
<text x="463" y="248" font-size="9.5" text-anchor="middle">1</text>
<text x="531" y="247.5" font-size="9.5" text-anchor="middle">2</text>
<rect x="490" y="236.3" width="6.5" height="5" fill="#14aff0"/>
<text x="499.5" y="241" font-size="5">ARGs</text>
<rect x="490" y="245.3" width="6.5" height="5" fill="#7ee000"/>
<text x="499.5" y="250" font-size="5">VFs</text>
</g>
<g id="legend-country" class="lg">
<rect x="576" y="88" width="92" height="365" fill="#e6e6e6"/>
<text x="590" y="107" font-size="12.5">Country : 1</text>
<g font-size="8.2">
<rect x="591" y="121" width="6.5" height="6.5" fill="#f0e1cf"/><text x="602" y="127">Norway</text>
<rect x="591" y="134" width="6.5" height="6.5" fill="#e3e3ef"/><text x="602" y="140">New Zealand</text>
<rect x="591" y="147" width="6.5" height="6.5" fill="#6dbd8d"/><text x="602" y="153">Kenya</text>
<rect x="591" y="159.5" width="6.5" height="6.5" fill="#b7d7df"/><text x="602" y="165.5">Croatia</text>
<rect x="591" y="172" width="6.5" height="6.5" fill="#ecd35c"/><text x="602" y="178">Philippines</text>
<rect x="591" y="184.7" width="6.5" height="6.5" fill="#d0d0d0"/><text x="602" y="190.7">Ethiopia</text>
<rect x="591" y="197.3" width="6.5" height="6.5" fill="#b4d6de"/><text x="602" y="203.3">Peru</text>
<rect x="591" y="210" width="6.5" height="6.5" fill="#d8c7dd"/><text x="602" y="216">China</text>
<rect x="591" y="222.5" width="6.5" height="6.5" fill="#eef0dd"/><text x="602" y="228.5">Vietnam</text>
<rect x="591" y="235" width="6.5" height="6.5" fill="#ddf3f3"/><text x="602" y="241">Singapore</text>
<rect x="591" y="246.5" width="6.5" height="6.5" fill="#b7dadf"/><text x="602" y="252.5">Japan</text>
<rect x="591" y="258.5" width="6.5" height="6.5" fill="#b5e3e3"/><text x="602" y="264.5">USA</text>
<rect x="591" y="271.8" width="6.5" height="6.5" fill="#efb69e"/><text x="602" y="277.8">India</text>
<rect x="591" y="285.3" width="6.5" height="6.5" fill="#e7ebd9"/><text x="602" y="291.3">Nigeria</text>
<rect x="591" y="297.5" width="6.5" height="6.5" fill="#5ba3e7"/><text x="602" y="303.5">Nepal</text>
<rect x="591" y="310" width="6.5" height="6.5" fill="#e3e3ef"/><text x="602" y="316">Chile</text>
<rect x="591" y="322.8" width="6.5" height="6.5" fill="#9f9b59"/><text x="602" y="328.8">Belgium</text>
<rect x="591" y="334.8" width="6.5" height="6.5" fill="#a7e3a7"/><text x="602" y="340.8">Colombia</text>
<rect x="591" y="346.2" width="6.5" height="6.5" fill="#c3c3c3"/><text x="602" y="352.2">United Kingdom</text>
<rect x="591" y="358.2" width="6.5" height="6.5" fill="#efd9c5"/><text x="602" y="364.2">Ghana</text>
<rect x="591" y="370.2" width="6.5" height="6.5" fill="#5555a5"/><text x="602" y="376.2">France</text>
<rect x="591" y="381.5" width="6.5" height="6.5" fill="#efbdc7"/><text x="602" y="387.5">Australia</text>
<rect x="591" y="392.8" width="6.5" height="6.5" fill="#d18d65"/><text x="602" y="398.8">Cambodia</text>
<rect x="591" y="404.5" width="6.5" height="6.5" fill="#efbdc7"/><text x="602" y="410.5">Pakistan</text>
<rect x="591" y="416.2" width="6.5" height="6.5" fill="#e55555"/><text x="602" y="422.2">Algeria</text>
<rect x="591" y="427.2" width="6.5" height="6.5" fill="#a54dcd"/><text x="602" y="433.2">Germany</text>
<rect x="591" y="437.8" width="6.5" height="6.5" fill="#9e96de"/><text x="602" y="443.8">Malawi</text>
</g>
</g>
<g id="legend-year" class="lg">
<rect x="670" y="143" width="83" height="245" fill="#e6e6e6"/>
<text x="682" y="162" font-size="12.5">Year : 2</text>
<g font-size="8.3">
<rect x="685" y="176" width="6.5" height="6.5" fill="#9aa4af"/><text x="699" y="182.2">2000</text>
<rect x="685" y="188.8" width="6.5" height="6.5" fill="#4eaaa8"/><text x="699" y="195">2005</text>
<rect x="685" y="201.5" width="6.5" height="6.5" fill="#b5ea66"/><text x="699" y="207.7">2008</text>
<rect x="685" y="214.3" width="6.5" height="6.5" fill="#eef2e6"/><text x="699" y="220.5">2009</text>
<rect x="685" y="227" width="6.5" height="6.5" fill="#e9e553"/><text x="699" y="233.2">2010</text>
<rect x="685" y="239.8" width="6.5" height="6.5" fill="#5b5ba8"/><text x="699" y="246">2012</text>
<rect x="685" y="252.6" width="6.5" height="6.5" fill="#f7efdf"/><text x="699" y="258.8">2013</text>
<rect x="685" y="265.3" width="6.5" height="6.5" fill="#efdccc"/><text x="699" y="271.5">2014</text>
<rect x="685" y="278.1" width="6.5" height="6.5" fill="#d5bea2"/><text x="699" y="284.3">2015</text>
<rect x="685" y="290.8" width="6.5" height="6.5" fill="#eba29a"/><text x="699" y="297">2016</text>
<rect x="685" y="303.6" width="6.5" height="6.5" fill="#bdd8df"/><text x="699" y="309.8">2017</text>
<rect x="685" y="316.4" width="6.5" height="6.5" fill="#efc490"/><text x="699" y="322.6">2018</text>
<rect x="685" y="329.1" width="6.5" height="6.5" fill="#aee8b6"/><text x="699" y="335.3">2019</text>
<rect x="685" y="341.9" width="6.5" height="6.5" fill="#d1caec"/><text x="699" y="348.1">2020</text>
<rect x="685" y="354.6" width="6.5" height="6.5" fill="#00ee00"/><text x="699" y="360.8">2022</text>
<rect x="685" y="367.4" width="6.5" height="6.5" fill="#ee0000"/><text x="699" y="373.6">2024</text>
</g>
</g>
</svg>
